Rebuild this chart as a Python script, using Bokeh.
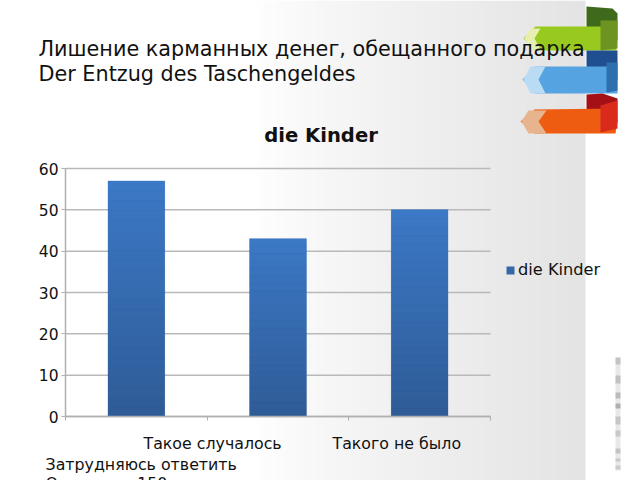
from bokeh.plotting import figure
from bokeh.models import (Label, BoxAnnotation, PolyAnnotation, Legend, LegendItem,
                          Range1d, FixedTicker)
from bokeh.embed import file_html
from bokeh.resources import INLINE

# ---- data ----
series_name = "die Kinder"
categories = ["Такое случалось", "Такого не было", "Затрудняюсь ответить"]
values = [57, 43, 50]
y_ticks = [0, 10, 20, 30, 40, 50, 60]
title_lines = ["Лишение карманных денег, обещанного подарка", "Der Entzug des Taschengeldes"]
footer = "Опрошено 150"

FONT = "DejaVu Sans"
W, H = 640, 480

# The frame fills the canvas; axes sit inside it at fixed locations.
PX0, PX1, PY0, PY1 = 65, 490, 168, 416
n = len(values)
ymax = y_ticks[-1]
ux = n / (PX1 - PX0)
uy = ymax / (PY1 - PY0)
p = figure(width=W, height=H, output_backend="svg", toolbar_location=None,
           x_range=Range1d(-PX0 * ux, (W - PX0) * ux),
           y_range=Range1d((PY1 - H) * uy, PY1 * uy),
           min_border=0)
p.outline_line_color = None
p.background_fill_color = "white"
p.border_fill_color = "white"


def box(x0, y0, x1, y1, color, alpha=1.0):
    p.add_layout(BoxAnnotation(left=x0, right=x1, top=y0, bottom=y1,
                               left_units="canvas", right_units="canvas",
                               top_units="canvas", bottom_units="canvas",
                               fill_color=color, fill_alpha=alpha, line_color=None,
                               level="image"))


def poly(xs, ys, color, alpha=1.0):
    p.add_layout(PolyAnnotation(xs=list(xs), ys=list(ys),
                                xs_units="canvas", ys_units="canvas",
                                fill_color=color, fill_alpha=alpha, line_color=None,
                                level="image"))


# slide background: white, fading to light grey towards x=585
x = 250
while x < 585:
    t = (x - 250) / 335
    g = int(255 - 27 * t ** 0.8)
    box(x, 0, min(x + 5.5, 585), 480, "#%02x%02x%02x" % (g, g, g))
    x += 5

# ribbons
poly([586, 612, 617, 617, 586], [6, 8, 13, 40, 40], "#3f6a1c")
poly([523, 535, 616, 616, 535], [38, 26, 26, 50, 50], "#97c91f")
poly([600, 617, 617, 600], [20, 20, 48, 50], "#6d9420")
poly([530, 540, 534, 540, 530, 524], [28, 28, 38, 49, 49, 38], "#e6efb0")

poly([586, 617, 617, 586], [50, 50, 80, 80], "#1f4f8e")
poly([522, 535, 617, 617, 535], [79, 66, 66, 93, 93], "#55a3e0")
poly([530, 545, 538, 545, 530, 523], [66, 66, 79, 93, 93, 79], "#b9dcf4")
poly([606, 617, 617, 606], [62, 62, 90, 92], "#2e6fae")

poly([586, 602, 617, 617, 586], [94, 93, 98, 122, 122], "#a50f16")
poly([520, 534, 615, 617, 615, 534], [121, 109, 108, 120, 133, 133], "#ee5c12")
poly([528, 546, 538, 546, 528, 521], [110, 110, 121, 133, 133, 121], "#e8b48e")
poly([600, 617, 617, 600], [105, 100, 128, 132], "#d92a1c")

# faint watermark at the right edge
box(615, 357, 620, 470, "#d8d8d8", 0.6)
for y0, y1, c in [(357, 364, "#b5b5b5"), (375, 383, "#b0b0b0"), (392, 398, "#a8a8a8"),
                  (403, 408, "#999999"), (416, 424, "#b8b8b8"), (430, 436, "#bbbbbb"),
                  (448, 453, "#b5b5b5"), (458, 461, "#bbbbbb"), (465, 469, "#c0c0c0")]:
    box(615, y0, 620, y1, c, 0.7)

# grid lines span only the plot area
p.grid.visible = False
p.segment(x0=[0] * len(y_ticks), x1=[n] * len(y_ticks), y0=y_ticks, y1=y_ticks,
          line_color="#b9b9b9", line_width=1.5, level="underlay")

ax = p.yaxis[0]
ax.fixed_location = 0
ax.bounds = (0, ymax)
ax.ticker = FixedTicker(ticks=y_ticks)
ax.axis_line_color = "#b0b0b0"
ax.axis_line_width = 1.5
ax.major_tick_line_color = "#b0b0b0"
ax.major_tick_in = 0
ax.major_tick_out = 4
ax.minor_tick_line_color = None
ax.major_label_text_font = FONT
ax.major_label_text_font_size = "15.5px"
ax.major_label_text_color = "#111111"
ax.major_label_standoff = 3

ax = p.xaxis[0]
ax.fixed_location = 0
ax.bounds = (0, n)
ax.ticker = FixedTicker(ticks=list(range(n + 1)))
ax.axis_line_color = "#b0b0b0"
ax.axis_line_width = 1.5
ax.major_tick_line_color = "#b0b0b0"
ax.major_tick_in = 0
ax.major_tick_out = 4
ax.minor_tick_line_color = None
ax.major_label_overrides = {i: "" for i in range(n + 1)}

# bars with a vertical gradient, built of slices of each value
xs = [i + 0.5 for i in range(n)]
main = p.vbar(x=xs, top=values, bottom=0, width=0.4, fill_color="#3568aa", line_color=None)
N = 24
top_c, bot_c = (60, 121, 198), (47, 92, 150)
for k in range(N):
    t = (k + 0.5) / N
    c = "#%02x%02x%02x" % tuple(int(bot_c[i] + (top_c[i] - bot_c[i]) * t) for i in range(3))
    p.vbar(x=xs, top=[v * (k + 1) / N for v in values], bottom=[v * k / N for v in values],
           width=0.4, fill_color=c, line_color=c, line_width=0.3)

legend = Legend(items=[LegendItem(label=series_name, renderers=[main])],
                location=(505, H - 279), border_line_color=None,
                background_fill_color=None, background_fill_alpha=0,
                label_text_font=FONT, label_text_font_size="16.2px", label_text_color="#111111",
                glyph_width=10, glyph_height=10, margin=0, padding=3, label_standoff=3)
p.add_layout(legend)


def text(x, y, s, size, style="normal", color="#111111", align="left"):
    p.add_layout(Label(x=x, y=y, x_units="canvas", y_units="canvas", text=s,
                       text_font=FONT, text_font_size=size, text_font_style=style,
                       text_color=color, text_align=align, text_baseline="alphabetic"))


text(38, 48, title_lines[0], "20.75px")
text(38, 73, title_lines[1], "20.75px")
text(320.5, 135, series_name, "19.6px", "bold", align="center")
text(143, 443, categories[0], "15.8px")
text(332, 443, categories[1], "15.8px")
text(45, 464, categories[2], "15.8px")
text(45, 483, footer, "15.8px")

open("out.html", "w").write(file_html(p, INLINE))
